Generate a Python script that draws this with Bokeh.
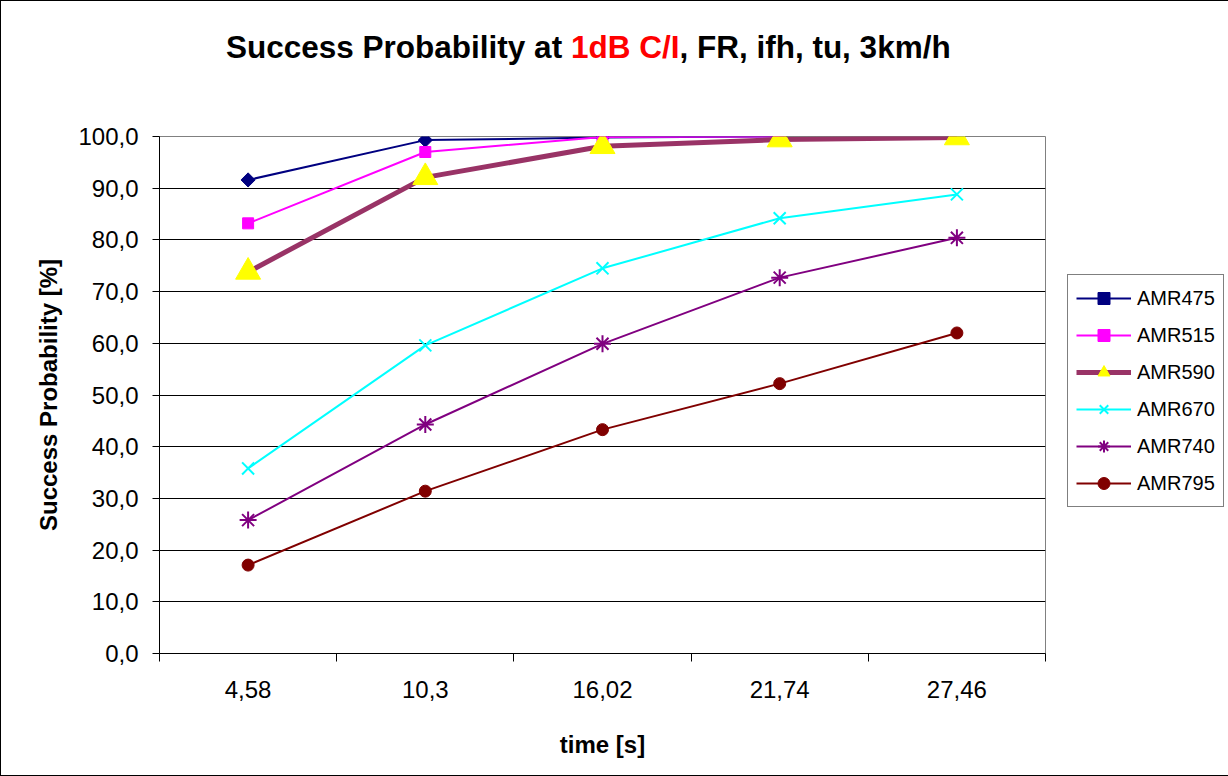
import numpy as np
from bokeh.plotting import figure
from bokeh.layouts import column
from bokeh.models import Range1d, FixedTicker, Legend, LegendItem, Div
from bokeh.embed import file_html
from bokeh.resources import INLINE

# ---- data ----
categories = ["4,58", "10,3", "16,02", "21,74", "27,46"]
amr475 = [91.6, 99.3, 99.8, 100.0, np.nan]
amr515 = [83.2, 97.0, 99.9, 100.0, np.nan]
amr590 = [73.8, 92.1, 98.1, 99.4, 99.8]
amr670 = [35.8, 59.6, 74.5, 84.2, 88.8]
amr740 = [25.8, 44.3, 59.9, 72.7, 80.4]
amr795 = [17.1, 31.4, 43.3, 52.2, 62.0]
series_names = ["AMR475", "AMR515", "AMR590", "AMR670", "AMR740", "AMR795"]
y_ticks = [0, 10, 20, 30, 40, 50, 60, 70, 80, 90, 100]
y_tick_labels = ["0,0", "10,0", "20,0", "30,0", "40,0", "50,0", "60,0", "70,0", "80,0", "90,0", "100,0"]
title_parts = ["Success Probability at ", "1dB C/I", ", FR, ifh, tu, 3km/h"]
title_colors = ["black", "#FF0000", "black"]

FONT = "Liberation Sans"
W = 1222
TITLE_H = 100

xpos = [i + 0.5 for i in range(len(categories))]

# ---- title (three coloured parts in one line) ----
spans = "".join(f'<span style="color:{c}">{t}</span>' for t, c in zip(title_parts, title_colors))
title = Div(text=(f'<div style="padding:28px 0 0 225px; margin:0; white-space:nowrap; '
                  f'font-family:\'{FONT}\'; font-size:31.5px; font-weight:bold; line-height:normal">'
                  f'{spans}</div>'),
            width=W, height=TITLE_H, margin=0)

# ---- main chart ----
p = figure(frame_width=886, frame_height=517,
           min_border_left=158, min_border_right=178,
           min_border_top=35, min_border_bottom=122,
           x_range=Range1d(0, len(categories)), y_range=Range1d(0, 100),
           output_backend="svg", toolbar_location=None, tools="")
p.background_fill_color = "white"
p.border_fill_color = "white"
p.outline_line_color = "#808080"
p.outline_line_width = 1

p.xgrid.visible = False
p.ygrid.ticker = FixedTicker(ticks=y_ticks[1:-1])
p.ygrid.grid_line_color = "black"
p.ygrid.grid_line_width = 1

ya = p.yaxis[0]
ya.ticker = FixedTicker(ticks=y_ticks)
ya.major_label_overrides = {t: l for t, l in zip(y_ticks, y_tick_labels)}
ya.major_tick_in = 0
ya.major_tick_out = 7
ya.minor_tick_line_color = None
ya.axis_line_color = "black"
ya.major_tick_line_color = "black"
ya.major_label_text_font = FONT
ya.major_label_text_font_size = "24px"
ya.major_label_text_color = "black"
ya.major_label_standoff = 14
ya.axis_label = "Success Probability [%]"
ya.axis_label_text_font = FONT
ya.axis_label_text_font_size = "24px"
ya.axis_label_text_font_style = "bold"
ya.axis_label_text_color = "black"
ya.axis_label_standoff = 13

xa = p.xaxis[0]
xa.ticker = FixedTicker(ticks=xpos, minor_ticks=list(range(len(categories) + 1)))
xa.major_label_overrides = {float(x): c for x, c in zip(xpos, categories)}
xa.major_tick_line_color = None
xa.major_tick_in = 0
xa.major_tick_out = 0
xa.minor_tick_in = 0
xa.minor_tick_out = 8
xa.minor_tick_line_color = "black"
xa.axis_line_color = "black"
xa.major_label_text_font = FONT
xa.major_label_text_font_size = "24px"
xa.major_label_text_color = "black"
xa.major_label_standoff = 19
xa.axis_label = "time [s]"
xa.axis_label_text_font = FONT
xa.axis_label_text_font_size = "24px"
xa.axis_label_text_font_style = "bold"
xa.axis_label_text_color = "black"
xa.axis_label_standoff = 30

styles = [
    dict(data=amr475, color="#000080", lw=2, marker="square", mcolor="#000080", size=10, angle=np.pi / 4),
    dict(data=amr515, color="#FF00FF", lw=2, marker="square", mcolor="#FF00FF", size=11, angle=0),
    dict(data=amr590, color="#993366", lw=5, marker="triangle", mcolor="#FFFF00", size=25, angle=0),
    dict(data=amr670, color="#00FFFF", lw=2, marker="x", mcolor="#00FFFF", size=17, angle=0),
    dict(data=amr740, color="#800080", lw=2, marker="asterisk", mcolor="#800080", size=17, angle=0),
    dict(data=amr795, color="#800000", lw=2, marker="circle", mcolor="#800000", size=12, angle=0),
]

items = []
for name, s in zip(series_names, styles):
    ln = p.line(xpos, s["data"], line_color=s["color"], line_width=s["lw"])
    if s["marker"] in ("x", "asterisk"):
        sc = p.scatter(xpos, s["data"], marker=s["marker"], size=s["size"],
                       line_color=s["mcolor"], line_width=2, fill_color=None)
    else:
        sc = p.scatter(xpos, s["data"], marker=s["marker"], size=s["size"], angle=s["angle"],
                       fill_color=s["mcolor"], line_color=s["mcolor"], line_width=1)
    items.append(LegendItem(label=name, renderers=[ln, sc]))

legend = Legend(items=items, location=(22, 146))
legend.label_text_font = FONT
legend.label_text_font_size = "20px"
legend.label_text_color = "black"
legend.glyph_width = 55
legend.glyph_height = 30
legend.label_height = 30
legend.spacing = 7
legend.padding = 8
legend.margin = 0
legend.label_standoff = 6
legend.border_line_color = "black"
legend.border_line_width = 1
legend.background_fill_color = "white"
legend.background_fill_alpha = 1
p.add_layout(legend, "right")

layout = column(title, p, spacing=0)
layout.styles = {"border": "1px solid black", "background-color": "white"}

open("out.html", "w").write(file_html(layout, INLINE))
